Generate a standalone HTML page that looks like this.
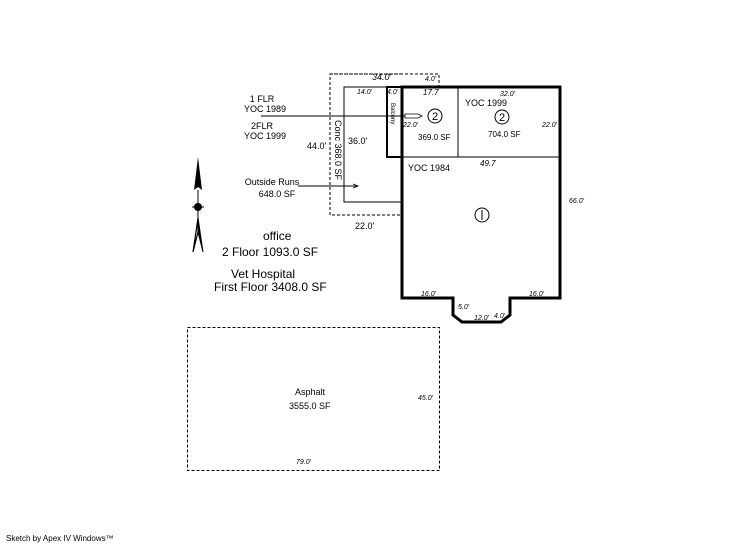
<!DOCTYPE html>
<html><head><meta charset="utf-8"><style>
html,body{margin:0;padding:0;background:#fff;width:746px;height:547px;overflow:hidden}
svg{display:block}
text{font-family:"Liberation Sans",Arial,sans-serif;fill:#000}
</style></head><body>
<svg width="746" height="547" viewBox="0 0 746 547" xmlns="http://www.w3.org/2000/svg">
<path d="M402 74 H330 V215 H402 M330 74 H439 V87" fill="none" stroke="#000" stroke-width="1" stroke-dasharray="3,2"/>
<path d="M387 87 H344 V202 H402" fill="none" stroke="#000" stroke-width="1"/>
<rect x="387" y="87" width="15" height="70" fill="none" stroke="#000" stroke-width="2"/>
<path d="M402 87 H560 V298 H510 V315 L501 322 H462 L453 315 V298 H402 Z" fill="none" stroke="#000" stroke-width="3"/>
<line x1="402" y1="157" x2="560" y2="157" stroke="#000" stroke-width="1"/>
<line x1="458" y1="87" x2="458" y2="157" stroke="#000" stroke-width="1"/>
<line x1="261" y1="116" x2="422" y2="116" stroke="#000" stroke-width="1"/>
<path d="M405 114 L418 114 L422 116 L418 118 L405 118 Z" fill="#fff" stroke="#000" stroke-width="0.8"/>
<line x1="298" y1="186" x2="358" y2="186" stroke="#000" stroke-width="1"/>
<path d="M353 184 L358 186 L353 188" fill="none" stroke="#000" stroke-width="0.8"/>
<circle cx="435" cy="116" r="7" fill="none" stroke="#000"/>
<text x="435" y="120" font-size="11" text-anchor="middle">2</text>
<circle cx="502" cy="117" r="7" fill="none" stroke="#000"/>
<text x="502" y="121" font-size="11" text-anchor="middle">2</text>
<circle cx="482" cy="215" r="7" fill="none" stroke="#000"/>
<line x1="482" y1="210" x2="482" y2="220" stroke="#000"/>
<rect x="187.5" y="327.5" width="252" height="143" fill="none" stroke="#000" stroke-dasharray="3,2"/>
<path d="M198 157 L194 190 L198 187 L202 190 Z" fill="#000"/>
<line x1="198" y1="190" x2="198" y2="218" stroke="#000"/>
<circle cx="198" cy="207" r="4" fill="#000"/>
<line x1="192" y1="207" x2="204" y2="207" stroke="#000"/>
<path d="M198 218 L193 252 L198 232 Z" fill="none" stroke="#000" stroke-width="1.2"/>
<path d="M198 218 L203 252 L198 232 Z" fill="#000" stroke="#000"/>
<g font-size="7" font-style="italic">
<text x="372" y="80" font-size="9">34.0'</text>
<text x="425" y="81">4.0'</text>
<text x="357" y="94">14.0'</text>
<text x="387" y="94">4.0'</text>
<text x="423" y="95" font-size="8">17.7</text>
<text x="500" y="96">32.0'</text>
<text x="403" y="127">22.0'</text>
<text x="542" y="127">22.0'</text>
<text x="480" y="166" font-size="8">49.7</text>
<text x="569" y="203">66.0'</text>
<text x="421" y="296">16.0'</text>
<text x="529" y="296">16.0'</text>
<text x="458" y="309">5.0'</text>
<text x="474" y="320">12.0'</text>
<text x="494" y="318">4.0'</text>
<text x="418" y="400">45.0'</text>
<text x="296" y="464">79.0'</text>
</g>
<g font-size="8">
<text x="418" y="140">369.0 SF</text>
<text x="488" y="137">704.0 SF</text>
<text x="391" y="103" font-size="6" transform="rotate(90 391 103)">Balcony</text>
</g>
<g font-size="9">
<text x="262" y="102" text-anchor="middle">1 FLR</text>
<text x="265" y="112" text-anchor="middle">YOC 1989</text>
<text x="262" y="129" text-anchor="middle">2FLR</text>
<text x="265" y="139" text-anchor="middle">YOC 1999</text>
<text x="307" y="149">44.0'</text>
<text x="348" y="144">36.0'</text>
<text x="335" y="120" transform="rotate(90 335 120)">Conc  368.0 SF</text>
<text x="465" y="106">YOC 1999</text>
<text x="408" y="171">YOC 1984</text>
<text x="272" y="185" text-anchor="middle">Outside Runs</text>
<text x="277" y="197" text-anchor="middle">648.0 SF</text>
<text x="355" y="229">22.0'</text>
<text x="295" y="395">Asphalt</text>
<text x="289" y="409">3555.0 SF</text>
<text x="6" y="541" font-size="8">Sketch by Apex IV Windows™</text>
</g>
<g font-size="12">
<text x="263" y="240">office</text>
<text x="222" y="256">2 Floor  1093.0 SF</text>
<text x="231" y="278">Vet Hospital</text>
<text x="214" y="291">First Floor 3408.0 SF</text>
</g>
</svg>
</body></html>
